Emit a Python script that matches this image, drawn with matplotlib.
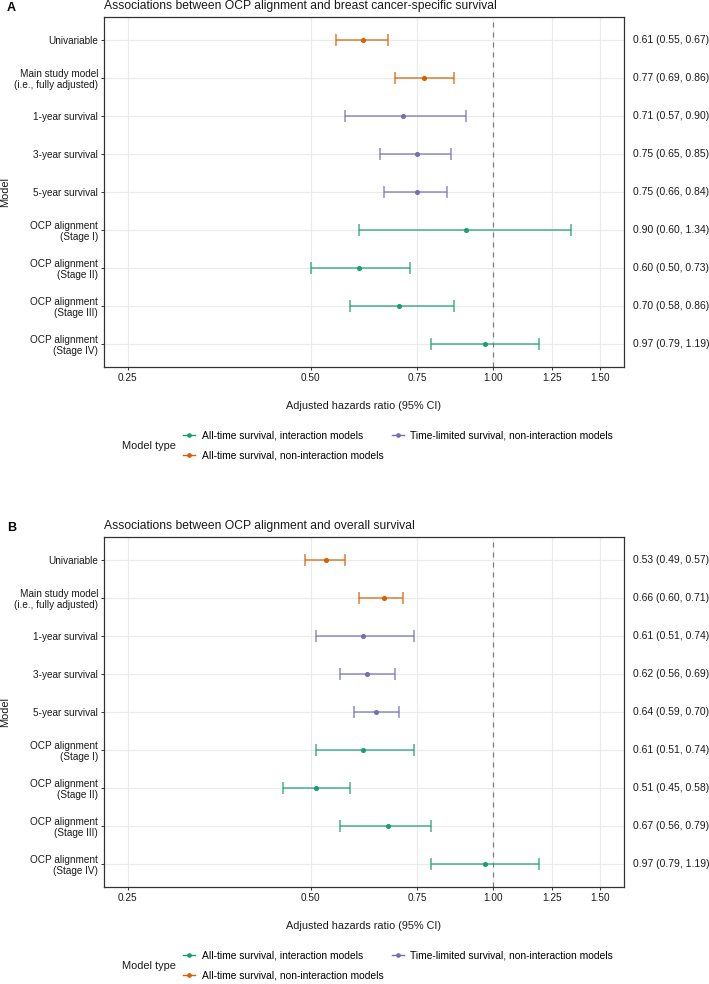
import matplotlib
matplotlib.use("Agg")
import matplotlib.pyplot as plt
import matplotlib.transforms as mtransforms
from matplotlib.lines import Line2D
import numpy as np

plt.rcParams['font.family'] = ['Liberation Sans', 'DejaVu Sans']

# ---------------- data ----------------
models = ["Univariable", "Main study model\n(i.e., fully adjusted)", "1-year survival",
          "3-year survival", "5-year survival", "OCP alignment\n(Stage I)",
          "OCP alignment\n(Stage II)", "OCP alignment\n(Stage III)", "OCP alignment\n(Stage IV)"]
model_types = ["nonint", "nonint", "timelim", "timelim", "timelim",
               "inter", "inter", "inter", "inter"]

a_est = [0.61, 0.77, 0.71, 0.75, 0.75, 0.90, 0.60, 0.70, 0.97]
a_lo = [0.55, 0.69, 0.57, 0.65, 0.66, 0.60, 0.50, 0.58, 0.79]
a_hi = [0.67, 0.86, 0.90, 0.85, 0.84, 1.34, 0.73, 0.86, 1.19]

b_est = [0.53, 0.66, 0.61, 0.62, 0.64, 0.61, 0.51, 0.67, 0.97]
b_lo = [0.49, 0.60, 0.51, 0.56, 0.59, 0.51, 0.45, 0.56, 0.79]
b_hi = [0.57, 0.71, 0.74, 0.69, 0.70, 0.74, 0.58, 0.79, 1.19]

x_ticks = [0.25, 0.50, 0.75, 1.00, 1.25, 1.50]
x_tick_labels = ["0.25", "0.50", "0.75", "1.00", "1.25", "1.50"]

type_order = ["inter", "nonint", "timelim"]
type_labels = {"inter": "All-time survival, interaction models",
               "nonint": "All-time survival, non-interaction models",
               "timelim": "Time-limited survival, non-interaction models"}
type_colors = {"inter": "#1B9E77", "nonint": "#D95F02", "timelim": "#7570B3"}

titles = ["Associations between OCP alignment and breast cancer-specific survival",
          "Associations between OCP alignment and overall survival"]
panel_letters = ["A", "B"]

# ---------------- figure ----------------
W, H = 709, 984
fig = plt.figure(figsize=(W / 100, H / 100), dpi=100)


def fy(y):
    return 1 - y / H


def draw_panel(top_px, est, lo, hi, title, letter):
    left, right, bottom = 104, 624, top_px + 350
    ax = fig.add_axes([left / W, fy(bottom), (right - left) / W, 350 / H])
    rows = np.arange(1, len(models) + 1)
    est = np.asarray(est); lo = np.asarray(lo); hi = np.asarray(hi)
    ax.set_xscale('log')
    lmin, lmax = np.log(0.25), np.log(1.5)
    ex = 0.05 * (lmax - lmin)
    ax.set_xlim(np.exp(lmin - ex), np.exp(lmax + ex))
    ax.set_ylim(len(models) + 0.6, 0.4)
    ax.set_xticks(x_ticks)
    ax.set_xticklabels(x_tick_labels)
    ax.xaxis.set_minor_locator(matplotlib.ticker.NullLocator())
    ax.set_yticks(rows)
    ax.set_yticklabels(models, linespacing=1.1)
    ax.grid(True, color='#EBEBEB', linewidth=0.8, zorder=0)
    ax.set_axisbelow(True)
    ax.axvline(1.0, color='#7F7F7F', linestyle=(0, (4, 4)), linewidth=0.9, zorder=1)
    for t in type_order:
        idx = [i for i, m in enumerate(model_types) if m == t]
        if not idx:
            continue
        c = type_colors[t]
        ax.errorbar(est[idx], rows[idx], xerr=[est[idx] - lo[idx], hi[idx] - est[idx]],
                    fmt='none', ecolor=c, alpha=0.8, elinewidth=1.1, capsize=4.3,
                    capthick=1.1, zorder=3)
        ax.plot(est[idx], rows[idx], 'o', color=c, markersize=3.7, zorder=4,
                markeredgewidth=0)
    for s in ax.spines.values():
        s.set_color('#333333')
        s.set_linewidth(0.9)
    ax.tick_params(axis='both', length=2.5, width=0.7, color='#333333', pad=1.8,
                   labelsize=7.2, labelcolor='#1a1a1a')
    # right side text
    trans = mtransforms.blended_transform_factory(fig.transFigure, ax.transData)
    for r, e, l, h in zip(rows, est, lo, hi):
        ax.text(633 / W, r, f"{e:.2f} ({l:.2f}, {h:.2f})", transform=trans,
                ha='left', va='center', fontsize=7.5, color='#1a1a1a', clip_on=False)
    # title and labels
    fig.text(left / W, fy(top_px - 8), title, ha='left', va='baseline', fontsize=8.7,
             color='#1a1a1a')
    fig.text(7 / W, fy(top_px - 6), letter, ha='left', va='baseline', fontsize=9,
             fontweight='bold')
    fig.text((left + right) / 2 / W, fy(bottom + 39), "Adjusted hazards ratio (95% CI)",
             ha='center', va='center', fontsize=7.8, color='#1a1a1a')
    fig.text(5 / W, fy(top_px + 175), "Model", rotation=90, ha='center', va='center',
             fontsize=7.9, color='#1a1a1a')
    # legend
    handles = [Line2D([0], [0], color=type_colors[t], marker='o', markersize=3.4,
                      linewidth=1.0, markeredgewidth=0) for t in type_order]
    labs = [type_labels[t] for t in type_order]
    fig.legend(handles, labs, ncol=2, loc='center left',
               bbox_to_anchor=(183 / W, fy(bottom + 78.5)), frameon=False,
               fontsize=7.4, handlelength=1.17, handletextpad=0.65,
               columnspacing=0.8, labelspacing=1.0, borderpad=0, borderaxespad=0)
    fig.text(122 / W, fy(bottom + 79), "Model type", ha='left', va='center',
             fontsize=7.9, color='#1a1a1a')
    return ax


draw_panel(17, a_est, a_lo, a_hi, titles[0], panel_letters[0])
draw_panel(537, b_est, b_lo, b_hi, titles[1], panel_letters[1])

fig.savefig("out.png", dpi=100, facecolor='white')
